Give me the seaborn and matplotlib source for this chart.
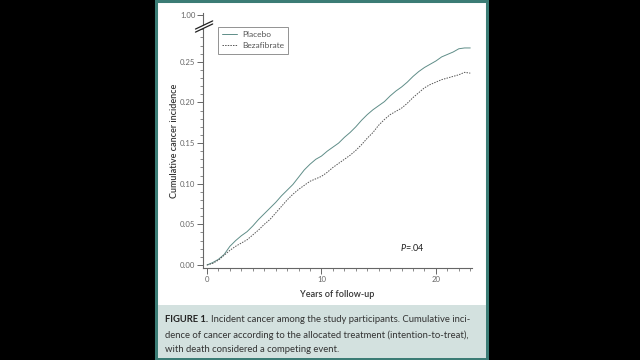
import numpy as np
import pandas as pd
import matplotlib
matplotlib.use("Agg")
import matplotlib.pyplot as plt
import seaborn as sns
from matplotlib.patches import Rectangle, Polygon
from matplotlib.ticker import MultipleLocator, FixedLocator

# Data (cumulative incidence by year of follow-up)
years = [0, 0.5, 1, 1.5, 2, 2.5, 3, 3.5, 4, 4.5, 5, 5.5, 6, 6.5, 7, 7.5, 8, 8.5,
         9, 9.5, 10, 10.5, 11, 11.5, 12, 12.5, 13, 13.5, 14, 14.5, 15, 15.5, 16,
         16.5, 17, 17.5, 18, 18.5, 19, 19.5, 20, 20.5, 21, 21.5, 22, 22.5, 23]
placebo = [0, 0.003, 0.007, 0.013, 0.023, 0.030, 0.036, 0.041, 0.048, 0.056,
           0.063, 0.070, 0.077, 0.085, 0.092, 0.099, 0.108, 0.117, 0.124, 0.130,
           0.134, 0.140, 0.145, 0.150, 0.157, 0.163, 0.170, 0.178, 0.185, 0.191,
           0.196, 0.201, 0.208, 0.214, 0.219, 0.225, 0.232, 0.238, 0.243, 0.247,
           0.251, 0.256, 0.259, 0.262, 0.266, 0.267, 0.267]
bezafibrate = [0, 0.002, 0.006, 0.012, 0.018, 0.023, 0.027, 0.031, 0.037, 0.043,
               0.050, 0.056, 0.064, 0.072, 0.080, 0.087, 0.093, 0.098, 0.103, 0.106,
               0.109, 0.114, 0.120, 0.125, 0.130, 0.135, 0.141, 0.148, 0.156, 0.163,
               0.172, 0.179, 0.185, 0.189, 0.193, 0.199, 0.206, 0.212, 0.218, 0.222,
               0.225, 0.228, 0.230, 0.232, 0.234, 0.237, 0.236]
groups = ["Placebo", "Bezafibrate"]
y_ticks = [0.00, 0.05, 0.10, 0.15, 0.20, 0.25]
x_ticks = [0, 10, 20]

df = pd.DataFrame({
    "year": years + years,
    "incidence": placebo + bezafibrate,
    "group": [groups[0]] * len(years) + [groups[1]] * len(years),
})

sns.set_style("white")
plt.rcParams["font.family"] = ["Lato", "DejaVu Sans"]
plt.rcParams["mathtext.fontset"] = "custom"
plt.rcParams["mathtext.it"] = "Lato:italic"
plt.rcParams["mathtext.rm"] = "Lato"

W, H = 640, 360
teal = "#3b7c75"
fig = plt.figure(figsize=(6.4, 3.6), dpi=100, facecolor="black")

# white page with teal frame and caption box
fig.patches.append(Rectangle((156 / W, 1 / H), 331 / W, 358 / H, transform=fig.transFigure,
                             facecolor="white", edgecolor=teal, lw=2.2, zorder=-2))
fig.patches.append(Rectangle((157.5 / W, 2 / H), 328 / W, 53 / H, transform=fig.transFigure,
                             facecolor="#d3e1df", edgecolor="none", zorder=-1))

ax = fig.add_axes([203 / W, 1 - 268 / H, 269 / W, 255 / H])
ax.set_zorder(2)
ax.set_facecolor("none")

sns.lineplot(data=df, x="year", y="incidence", hue="group", style="group",
             palette={"Placebo": "#5f8d88", "Bezafibrate": "#555555"},
             dashes={"Placebo": "", "Bezafibrate": (1.5, 1.2)},
             estimator=None, lw=0.7, ax=ax)

ax.set_xlim(-0.35, 23.15)
ax.set_ylim(-0.0037, 0.310)

top_pos = (265 - 15) / 812
ax.yaxis.set_major_locator(FixedLocator(y_ticks + [top_pos]))
ax.set_yticklabels([f"{v:.2f}" for v in y_ticks] + ["1.00"])
ax.yaxis.set_minor_locator(FixedLocator([i / 100 for i in range(0, 30)]))
ax.xaxis.set_major_locator(FixedLocator(x_ticks))
ax.xaxis.set_minor_locator(MultipleLocator(1))

for s in ["top", "right"]:
    ax.spines[s].set_visible(False)
for s in ["left", "bottom"]:
    ax.spines[s].set_color("#666666")
    ax.spines[s].set_linewidth(0.8)

ax.tick_params(which="major", direction="out", length=4, width=0.7, color="#666666",
               labelsize=5.6, labelcolor="#666666", pad=1.5, left=True, bottom=True)
ax.tick_params(which="minor", direction="out", length=2, width=0.6, color="#777777",
               left=True, bottom=True)

ax.set_xlabel("Years of follow-up", fontsize=6.5, fontweight="semibold",
              color="#333333", labelpad=5)
ax.set_ylabel("Cumulative cancer incidence", fontsize=6.5, fontweight="semibold",
              color="#333333", labelpad=0.5)

# axis break marks
bx, by = 0.004, 0.941
dx, dy = 0.032, 0.016
gap = 0.012
ax.add_patch(Polygon([(bx - dx, by - dy), (bx + dx, by + dy),
                      (bx + dx, by + dy + gap), (bx - dx, by - dy + gap)],
                     closed=True, transform=ax.transAxes, facecolor="white",
                     edgecolor="none", clip_on=False, zorder=5))
for off in [0, gap]:
    ax.plot([bx - dx, bx + dx], [by - dy + off, by + dy + off], color="#222222",
            lw=0.9, transform=ax.transAxes, clip_on=False, zorder=6)

leg = ax.legend(title=None, loc="upper left", bbox_to_anchor=(0.056, 0.945),
                borderaxespad=0, fontsize=6, frameon=True, fancybox=False,
                handlelength=1.8, handletextpad=0.6, borderpad=0.5, labelspacing=0.5)
leg.get_frame().set_edgecolor("#777777")
leg.get_frame().set_linewidth(0.7)
for t in leg.get_texts():
    t.set_color("#555555")

ax.text(16.9, 0.022, "$P$=.04", fontsize=6.5, color="#222222", va="center", ha="left")

# caption
cap_x = 165 / W
fs = 6.8
t1 = fig.text(cap_x, 1 - 320 / H, "FIGURE 1.", fontsize=fs, fontweight="bold",
              color="#222222", va="center")
fig.canvas.draw()
bb = t1.get_window_extent(renderer=fig.canvas.get_renderer())
fig.text(bb.x1 / W + 3 / W, 1 - 320 / H,
         "Incident cancer among the study participants. Cumulative inci-",
         fontsize=fs, color="#333333", va="center")
fig.text(cap_x, 1 - 335 / H,
         "dence of cancer according to the allocated treatment (intention-to-treat),",
         fontsize=fs, color="#333333", va="center")
fig.text(cap_x, 1 - 349 / H, "with death considered a competing event.",
         fontsize=fs, color="#333333", va="center")

fig.savefig("out.png", dpi=100, facecolor="black")
